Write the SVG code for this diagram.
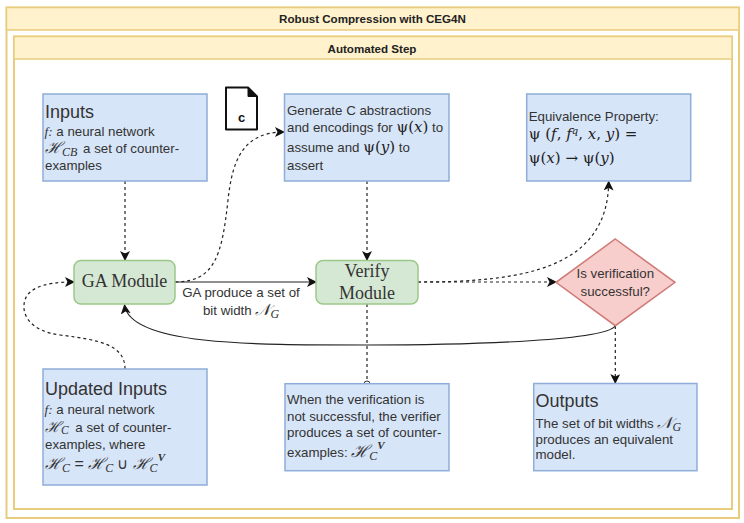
<svg xmlns="http://www.w3.org/2000/svg" width="744" height="523" viewBox="0 0 744 523">
<style>
.frame{fill:#fff;stroke:#e8cd7e;stroke-width:2}
.head{fill:#fff2cc;stroke:#e8cd7e;stroke-width:1.5}
.box{fill:#d7e5f8;stroke:#8fadd8;stroke-width:1.5}
.mod{fill:#d5e8d4;stroke:#9cc888;stroke-width:1.5}
.dia{fill:#f8cecc;stroke:#cf7a76;stroke-width:1.5}
.t{font-family:"Liberation Sans",Arial,sans-serif;font-size:13.3px;fill:#333}
.h{font-family:"Liberation Sans",Arial,sans-serif;font-size:18px;fill:#333}
.b{font-family:"Liberation Sans",Arial,sans-serif;font-size:11.6px;font-weight:bold;fill:#222;text-anchor:middle}
.s{font-family:"Liberation Serif",serif;font-size:18px;fill:#333;text-anchor:middle}
.m{font-family:"Liberation Serif","DejaVu Serif",serif;font-style:italic}
.mb{font-family:"DejaVu Serif","Liberation Serif",serif;font-size:15px;fill:#222}
.i{font-style:italic}
.c{fill:none;stroke:#222;stroke-width:1.2}
.d{stroke-dasharray:3 3}
</style>
<defs>
<marker id="arr" viewBox="0 0 10 10" refX="9" refY="5" markerWidth="10" markerHeight="10" markerUnits="userSpaceOnUse" orient="auto"><path d="M0 0L10 5L0 10L2.5 5Z" fill="#111"/></marker>
<marker id="circ" viewBox="0 0 8 8" refX="4" refY="4" markerWidth="8" markerHeight="8" markerUnits="userSpaceOnUse"><circle cx="4" cy="4" r="3" fill="#fff" stroke="#333"/></marker>
</defs>
<g id="frame-outer"><rect class="frame" x="6.5" y="7.5" width="732.5" height="510.5"/><rect class="head" x="6.5" y="7.5" width="732.5" height="22.5"/><text class="b" x="372.5" y="23">Robust Compression with CEG4N</text></g>
<g id="frame-inner"><rect class="frame" x="14" y="36.5" width="718" height="472.5"/><rect class="head" x="14" y="36.5" width="718" height="22.5"/><text class="b" x="372" y="53">Automated Step</text></g>
<g id="connectors">
<path class="c d" marker-end="url(#arr)" d="M125 181V260"/>
<path class="c d" marker-end="url(#arr)" d="M367 181V260"/>
<path class="c d" marker-end="url(#arr)" d="M175 282C215 282 222 255 228 200C232 165 240 132 284 132"/>
<path class="c" marker-end="url(#arr)" d="M175 282H316"/>
<path class="c d" marker-end="url(#arr)" d="M418 282H556"/>
<path class="c d" marker-end="url(#arr)" d="M418 282C520 282 608 270 608.7 181.500"/>
<path class="c d" marker-end="url(#arr)" d="M615.300 326V383"/>
<path class="c" marker-end="url(#arr)" d="M615 326C606 340 480 345 367 345C250 345 130 345 124.500 305"/>
<path class="c d" marker-end="url(#circ)" d="M367 304V384"/>
<path class="c d" marker-end="url(#arr)" d="M125 369C125 345 100 340 60 335C30 331 23 315 24 305C25 290 40 282 74 282"/>
</g>
<g id="file-icon"><path d="M226 87.500H248L257 96.500V129.500H226Z" fill="#fff" stroke="#111" stroke-width="2" stroke-linejoin="round"/><path d="M248 87.500L257 96.500H248Z" fill="#111" stroke="#111"/><text x="241.500" y="122" font-family="'Liberation Sans',sans-serif" font-size="13px" font-weight="bold" fill="#111" text-anchor="middle">c</text></g>
<g id="inputs"><rect class="box" x="43" y="94" width="164" height="87"/>
<text class="h" x="45" y="118">Inputs</text>
<text class="t" x="44.500" y="136"><tspan class="m">f:</tspan> a neural network</text>
<text class="t" x="45" y="153"><tspan class="m" font-size="16">ℋ</tspan><tspan class="m" font-size="12" dy="3">CB</tspan><tspan dy="-3" dx="2"> a set of counter-</tspan></text>
<text class="t" x="45" y="170">examples</text></g>
<g id="generate"><rect class="box" x="284.500" y="94" width="164.500" height="87"/>
<text class="t" x="287" y="114.700">Generate C abstractions</text>
<text class="t" x="287" y="131.700">and encodings for <tspan class="mb">ψ(<tspan class="i">x</tspan>)</tspan> to</text>
<text class="t" x="287" y="151.700">assume and <tspan class="mb">ψ(<tspan class="i">y</tspan>)</tspan> to</text>
<text class="t" x="287" y="170">assert</text></g>
<g id="equivalence"><rect class="box" x="526.700" y="94" width="164" height="87"/>
<text class="t" x="528.700" y="120.700">Equivalence Property:</text>
<text class="mb" x="528.700" y="139.300">ψ (<tspan class="i">f</tspan>, <tspan class="i">f</tspan><tspan class="i" font-size="10" dy="-5">q</tspan><tspan dy="5">, </tspan><tspan class="i">x</tspan>, <tspan class="i">y</tspan>) =</text>
<text class="mb" x="528.700" y="162.700">ψ(<tspan class="i">x</tspan>) → ψ(<tspan class="i">y</tspan>)</text></g>
<g id="ga-module"><rect class="mod" x="74" y="260.500" width="101" height="43.500" rx="7"/><text class="s" x="124.500" y="287">GA Module</text></g>
<g id="ga-label"><text class="t" x="241" y="297" text-anchor="middle">GA produce a set of</text><text class="t" x="241" y="315" text-anchor="middle">bit width <tspan class="m" font-size="16">𝒩</tspan><tspan class="m" font-size="12" dy="3">G</tspan></text></g>
<g id="verify-module"><rect class="mod" x="316" y="260.500" width="102" height="43.500" rx="7"/><text class="s" x="367" y="276.700">Verify</text><text class="s" x="367" y="299">Module</text></g>
<g id="decision"><path class="dia" d="M615.300 239L675 282.300L615.300 325.700L556 282.300Z"/><text class="t" x="615.300" y="278" text-anchor="middle">Is verification</text><text class="t" x="615.300" y="295.700" text-anchor="middle">successful?</text></g>
<g id="updated-inputs"><rect class="box" x="43" y="369" width="164" height="116"/>
<text class="h" x="45" y="395">Updated Inputs</text>
<text class="t" x="44.500" y="414"><tspan class="m">f:</tspan> a neural network</text>
<text class="t" x="45" y="431.700"><tspan class="m" font-size="15">ℋ</tspan><tspan class="m" font-size="11.500" dy="2">C</tspan><tspan dy="-2" dx="3"> a set of counter-</tspan></text>
<text class="t" x="45" y="449">examples, where</text>
<text class="t" x="45" y="469"><tspan class="m" font-size="16">ℋ</tspan><tspan class="m" font-size="12" dy="3">C</tspan><tspan dy="-3" font-size="16"> = </tspan><tspan class="m" font-size="16">ℋ</tspan><tspan class="m" font-size="12" dy="3">C</tspan><tspan dy="-3" font-size="15"> ∪ </tspan><tspan class="m" font-size="16">ℋ</tspan><tspan class="m" font-size="12" dy="3">C</tspan><tspan class="m" font-size="11" dy="-11" font-weight="bold">V</tspan></text></g>
<g id="counterexample-note"><rect class="box" x="285" y="383.700" width="164" height="87"/>
<text class="t" x="287" y="404">When the verification is</text>
<text class="t" x="287" y="420.700">not successful, the verifier</text>
<text class="t" x="287" y="436.700">produces a set of counter-</text>
<text class="t" x="287" y="456.700">examples: <tspan class="m" font-size="17">ℋ</tspan><tspan class="m" font-size="12" dy="3">C</tspan><tspan class="m" font-size="11" dy="-11" font-weight="bold">V</tspan></text></g>
<g id="outputs"><rect class="box" x="533.700" y="383.500" width="163.300" height="87.200"/>
<text class="h" x="535.500" y="406.700">Outputs</text>
<text class="t" x="535.500" y="427.700">The set of bit widths <tspan class="m" font-size="16">𝒩</tspan><tspan class="m" font-size="12" dy="3">G</tspan></text>
<text class="t" x="535.500" y="444">produces an equivalent</text>
<text class="t" x="535.500" y="459.300">model.</text></g>
</svg>
